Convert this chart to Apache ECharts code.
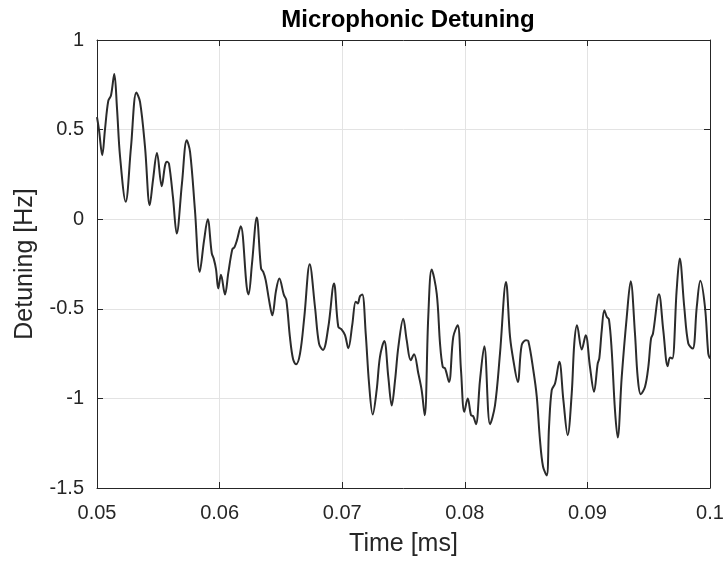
<!DOCTYPE html>
<html>
<head>
<meta charset="utf-8">
<script src="https://cdn.jsdelivr.net/npm/echarts@6/dist/echarts.min.js"></script>
<style>
  html, body { margin: 0; padding: 0; background: #fff; }
  #chart { width: 728px; height: 566px; }
</style>
</head>
<body>
<div id="chart"></div>
<script>
// time [ms] and detuning [Hz]
const times = [
  0.05000, 0.05016, 0.05043, 0.05065, 0.05092, 0.05114, 0.05141, 0.05163, 0.05188, 0.05234,
  0.05277, 0.05321, 0.05351, 0.05392, 0.05430, 0.05457, 0.05489, 0.05528, 0.05555, 0.05571,
  0.05587, 0.05620, 0.05650, 0.05693, 0.05732, 0.05759, 0.05799, 0.05838, 0.05873, 0.05903,
  0.05936, 0.05952, 0.05971, 0.05989, 0.06011, 0.06044, 0.06071, 0.06104, 0.06120, 0.06140,
  0.06172, 0.06221, 0.06236, 0.06264, 0.06303, 0.06338, 0.06356, 0.06376, 0.06403, 0.06430,
  0.06460, 0.06487, 0.06525, 0.06544, 0.06574, 0.06599, 0.06623, 0.06656, 0.06691, 0.06735,
  0.06778, 0.06811, 0.06843, 0.06887, 0.06933, 0.06968, 0.06996, 0.07023, 0.07050, 0.07082,
  0.07110, 0.07127, 0.07145, 0.07164, 0.07192, 0.07219, 0.07249, 0.07281, 0.07308, 0.07343,
  0.07376, 0.07404, 0.07431, 0.07458, 0.07498, 0.07526, 0.07559, 0.07586, 0.07621, 0.07648,
  0.07673, 0.07702, 0.07730, 0.07771, 0.07798, 0.07820, 0.07839, 0.07871, 0.07906, 0.07942,
  0.07969, 0.07996, 0.08024, 0.08051, 0.08069, 0.08091, 0.08124, 0.08159, 0.08206, 0.08246,
  0.08287, 0.08336, 0.08369, 0.08396, 0.08432, 0.08464, 0.08499, 0.08518, 0.08559, 0.08587,
  0.08613, 0.08638, 0.08668, 0.08687, 0.08709, 0.08736, 0.08771, 0.08804, 0.08839, 0.08872,
  0.08893, 0.08915, 0.08954, 0.08986, 0.09021, 0.09054, 0.09084, 0.09097, 0.09117, 0.09138,
  0.09158, 0.09176, 0.09198, 0.09225, 0.09247, 0.09280, 0.09321, 0.09353, 0.09388, 0.09410,
  0.09435, 0.09470, 0.09497, 0.09519, 0.09535, 0.09584, 0.09619, 0.09655, 0.09674, 0.09693,
  0.09728, 0.09753, 0.09790, 0.09823, 0.09859, 0.09892, 0.09921, 0.09959, 0.09986, 0.10000
];
const detuning = [
  0.57, 0.50, 0.357, 0.50, 0.66, 0.69, 0.81, 0.62, 0.35, 0.097,
  0.40, 0.707, 0.655, 0.40, 0.078, 0.22, 0.37, 0.184, 0.30, 0.32,
  0.31, 0.12, -0.08, 0.20, 0.44, 0.376, 0.05, -0.294, -0.12, 0.0,
  -0.19, -0.22, -0.28, -0.387, -0.31, -0.42, -0.30, -0.167, -0.158, -0.121,
  -0.039, -0.377, -0.42, -0.25, 0.01, -0.275, -0.294, -0.34, -0.45, -0.536,
  -0.40, -0.331, -0.424, -0.45, -0.66, -0.78, -0.81, -0.75, -0.545, -0.251,
  -0.49, -0.694, -0.73, -0.60, -0.359, -0.60, -0.616, -0.647, -0.72, -0.59,
  -0.46, -0.47, -0.43, -0.42, -0.64, -0.917, -1.09, -0.954, -0.768, -0.68,
  -0.88, -1.04, -0.90, -0.713, -0.555, -0.675, -0.787, -0.753, -0.861, -0.954,
  -1.094, -0.545, -0.281, -0.415, -0.694, -0.824, -0.833, -0.908, -0.657, -0.592,
  -0.843, -1.075, -1.0, -1.094, -1.10, -1.144, -0.898, -0.709, -1.144, -1.04,
  -0.75, -0.35, -0.657, -0.787, -0.908, -0.703, -0.675, -0.68, -0.843, -0.99,
  -1.23, -1.38, -1.43, -1.159, -0.954, -0.917, -0.796, -1.01, -1.205, -0.973,
  -0.694, -0.592, -0.727, -0.647, -0.824, -0.963, -0.806, -0.777, -0.62, -0.508,
  -0.545, -0.56, -0.73, -1.066, -1.218, -0.88, -0.545, -0.346, -0.638, -0.88,
  -0.977, -0.935, -0.824, -0.666, -0.638, -0.419, -0.62, -0.82, -0.772, -0.777,
  -0.396, -0.219, -0.49, -0.694, -0.722, -0.49, -0.344, -0.49, -0.75, -0.777
];
const xTicks = ['0.05', '0.06', '0.07', '0.08', '0.09', '0.1'];
const yTicks = ['-1.5', '-1', '-0.5', '0', '0.5', '1'];

const chart = echarts.init(document.getElementById('chart'))
const axisCol = '#262626'
const font = 'Liberation Sans, Arial, Helvetica, sans-serif'

const data = times.map((t, i) => [t, detuning[i]])

const xLabel = v => xTicks[Math.round((v - 0.05) / 0.01)]
const yLabel = v => yTicks[Math.round((v + 1.5) / 0.5)]

const option = {
  animation: false,
  backgroundColor: '#fff',
  title: {
    text: 'Microphonic Detuning',
    left: 403, top: 3, textAlign: 'center',
    textStyle: { fontFamily: font, fontSize: 24, fontWeight: 'bold', color: '#000' }
  },
  grid: { left: 97, right: 18, top: 40, bottom: 78, show: false },
  xAxis: [{
    type: 'value', min: 0.05, max: 0.1, interval: 0.01,
    name: 'Time [ms]', nameLocation: 'middle', nameGap: 44,
    nameTextStyle: { fontFamily: font, fontSize: 25, color: axisCol },
    axisLine: { show: true, onZero: false, lineStyle: { color: axisCol, width: 1 } },
    axisTick: { show: true, inside: true, length: 6, lineStyle: { color: axisCol } },
    axisLabel: { formatter: xLabel, fontFamily: font, fontSize: 20, color: axisCol, margin: 15 },
    splitLine: { show: true, lineStyle: { color: '#e3e3e3', width: 1 } }
  }, {
    type: 'value', min: 0.05, max: 0.1, interval: 0.01, position: 'top',
    axisLine: { show: true, onZero: false, lineStyle: { color: axisCol, width: 1 } },
    axisTick: { show: true, inside: true, length: 6, lineStyle: { color: axisCol } },
    axisLabel: { show: false }, splitLine: { show: false }
  }],
  yAxis: [{
    type: 'value', min: -1.5, max: 1, interval: 0.5,
    name: 'Detuning [Hz]', nameLocation: 'middle', nameGap: 59, nameRotate: 90,
    nameTextStyle: { fontFamily: font, fontSize: 25, color: axisCol },
    axisLine: { show: true, onZero: false, lineStyle: { color: axisCol, width: 1 } },
    axisTick: { show: true, inside: true, length: 6, lineStyle: { color: axisCol } },
    axisLabel: { formatter: yLabel, fontFamily: font, fontSize: 20, color: axisCol, margin: 13 },
    splitLine: { show: true, lineStyle: { color: '#e3e3e3', width: 1 } }
  }, {
    type: 'value', min: -1.5, max: 1, interval: 0.5, position: 'right',
    axisLine: { show: true, onZero: false, lineStyle: { color: axisCol, width: 1 } },
    axisTick: { show: true, inside: true, length: 6, lineStyle: { color: axisCol } },
    axisLabel: { show: false }, splitLine: { show: false }
  }],
  series: [{
    type: 'line',
    data: data,
    showSymbol: false,
    smooth: 0.35,
    lineStyle: { color: '#2b2b2b', width: 2 },
    clip: true
  }]
}

chart.setOption(option)
</script>
</body>
</html>
